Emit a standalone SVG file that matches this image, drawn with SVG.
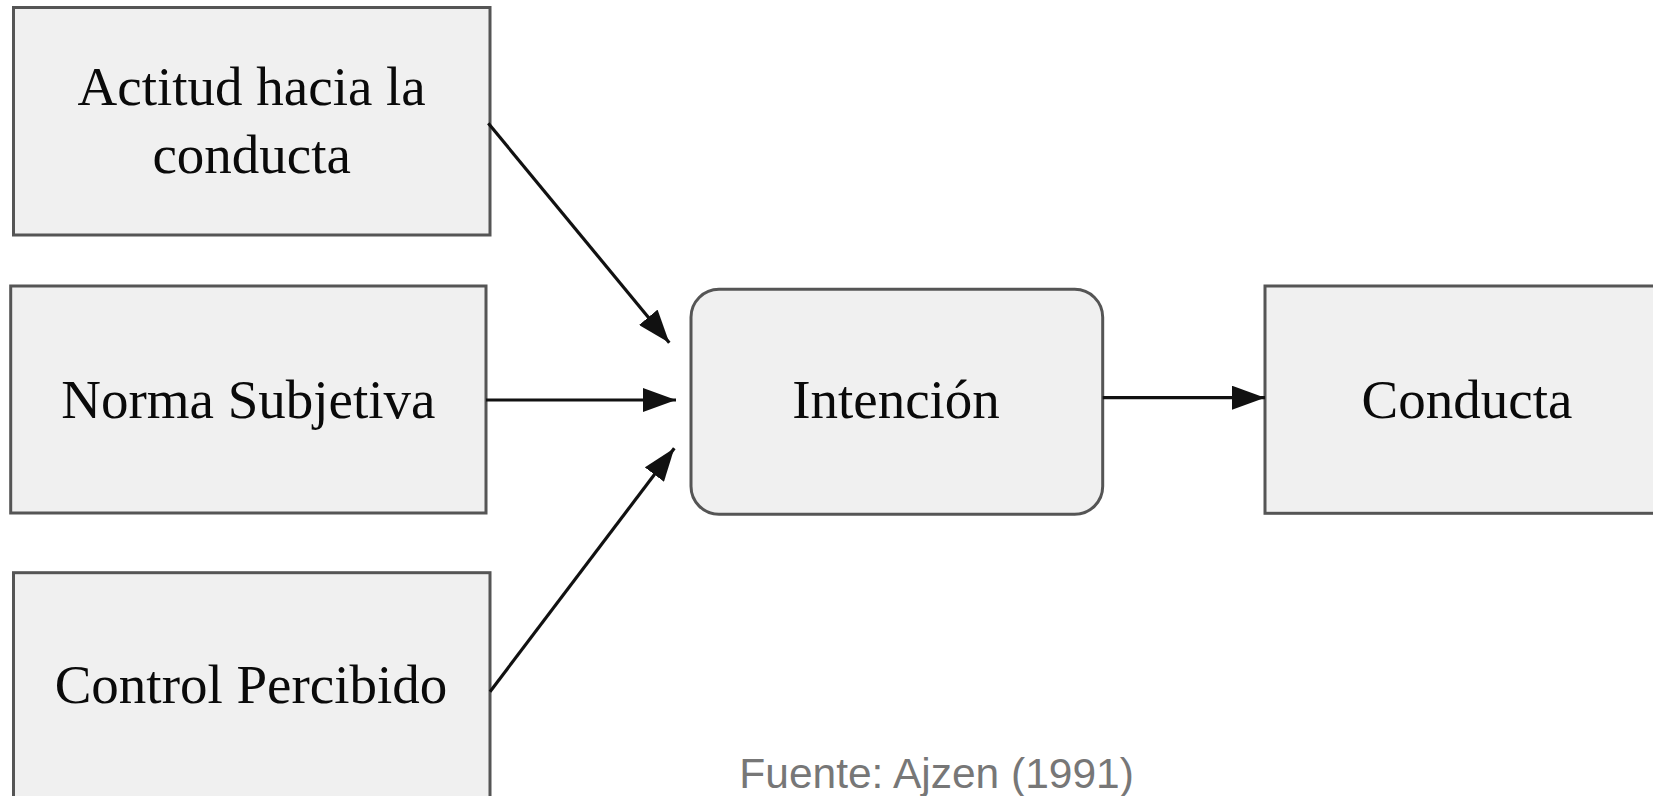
<svg xmlns="http://www.w3.org/2000/svg" width="1653" height="796" viewBox="0 0 1653 796">
<style>
.box{fill:#f0f0f0;stroke:#555;stroke-width:3}
.lbl{font-family:"Liberation Serif","Times New Roman",serif;font-size:55px;fill:#0a0a0a;text-anchor:middle}
.conn{stroke:#111;stroke-width:3.2;fill:none;marker-end:url(#ah)}
.src{font-family:"Liberation Sans",Arial,sans-serif;font-size:42.5px;fill:#777}
</style>
<defs>
<marker id="ah" markerUnits="userSpaceOnUse" markerWidth="33" markerHeight="24" viewBox="0 0 33 24" refX="33" refY="12" orient="auto">
<path d="M0,0 L33,12 L0,24 Z" fill="#111"/>
</marker>
</defs>
<rect width="1653" height="796" fill="#fff"/>
<g id="actitud">
<rect class="box" x="13.5" y="7.5" width="476.5" height="227.5"/>
<text class="lbl" x="251.7" y="105">Actitud hacia la</text>
<text class="lbl" x="251.7" y="173">conducta</text>
</g>
<g id="norma">
<rect class="box" x="10.7" y="286" width="475.3" height="227"/>
<text class="lbl" x="248.3" y="418">Norma Subjetiva</text>
</g>
<g id="control">
<rect class="box" x="13.5" y="572.7" width="476.5" height="240"/>
<text class="lbl" x="251" y="703">Control Percibido</text>
</g>
<g id="intencion">
<rect class="box" x="691" y="289.3" width="411.7" height="225" rx="28" ry="28"/>
<text class="lbl" x="896" y="418">Intención</text>
</g>
<g id="conducta">
<rect class="box" x="1265" y="286" width="420" height="227.3"/>
<text class="lbl" x="1467" y="417.7">Conducta</text>
</g>
<g id="connectors">
<line class="conn" x1="488.3" y1="123.3" x2="669.3" y2="342.7"/>
<line class="conn" x1="486" y1="400" x2="676" y2="400"/>
<line class="conn" x1="490" y1="691.7" x2="674.3" y2="448.3"/>
<line class="conn" x1="1102.7" y1="397.7" x2="1265" y2="397.7"/>
</g>
<text class="src" x="739.3" y="788.3">Fuente: Ajzen (1991)</text>
</svg>
